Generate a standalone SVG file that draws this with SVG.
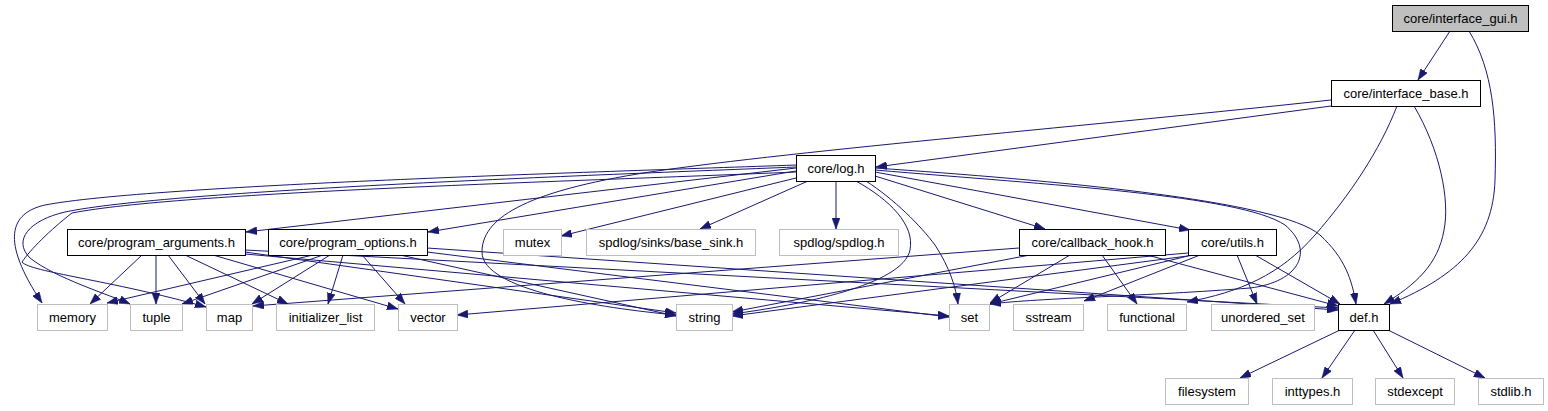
<svg xmlns="http://www.w3.org/2000/svg" width="1548" height="411" viewBox="0 0 1548 411">
<style>
  .n rect{fill:#ffffff;stroke:#000000;stroke-width:1}
  .x rect{fill:#ffffff;stroke:#bfbfbf;stroke-width:1}
  .root rect{fill:#bfbfbf;stroke:#000000;stroke-width:1}
  text{font-family:"Liberation Sans",Arial,sans-serif;font-size:13px;fill:#000000;text-anchor:middle}
  #edges path{fill:none;stroke:#191970;stroke-width:1;marker-end:url(#ah)}
</style>
<defs>
  <marker id="ah" markerUnits="userSpaceOnUse" markerWidth="11" markerHeight="8" refX="11" refY="4" orient="auto">
    <path d="M0,0 L11,4 L0,8 z" fill="#191970" stroke="#191970" stroke-width="0.5"/>
  </marker>
</defs>
<rect width="1548" height="411" fill="#ffffff"/>
<g id="edges">
  <path d="M1450,31 L1418,80"/>
  <path d="M1469,31 C1493,70 1497,120 1495,180 C1493,240 1460,275 1390,304"/>
  <path d="M1331,106 L876,167"/>
  <path d="M1331,100 C1100,125 800,150 650,172 C520,192 482,220 482,252 C482,290 600,308 676,315"/>
  <path d="M1397,106 C1380,150 1350,195 1315,235 C1280,275 1240,292 1187,302"/>
  <path d="M1414,106 C1440,150 1450,200 1444,230 C1438,265 1415,285 1384,304"/>
  <path d="M796,168 L246,232"/>
  <path d="M796,171 L428,232"/>
  <path d="M796,165 C600,172 150,185 45,205 C10,213 0,240 42,303"/>
  <path d="M796,167 C600,175 170,190 65,212 C30,220 12,240 30,258 C55,278 110,295 130,304"/>
  <path d="M796,172 C560,182 180,192 72,213 C50,230 30,250 22,262 C30,272 110,280 206,307"/>
  <path d="M796,178 L561,236"/>
  <path d="M808,181 L700,229"/>
  <path d="M836,181 L836,229"/>
  <path d="M875,176 L1045,229"/>
  <path d="M875,172 L1190,230"/>
  <path d="M875,168 C1050,180 1280,200 1320,235 C1345,258 1352,280 1356,304"/>
  <path d="M875,170 C1050,185 1240,195 1285,225 C1315,250 1300,282 1250,288 C1150,296 1040,298 990,304"/>
  <path d="M866,181 C895,200 920,225 935,245 C950,268 956,288 958,304"/>
  <path d="M856,181 C890,200 915,225 910,250 C903,285 800,305 732,314"/>
  <path d="M142,255 L90,304"/>
  <path d="M156,255 L156,304"/>
  <path d="M168,255 L205,304"/>
  <path d="M185,255 L288,304"/>
  <path d="M213,255 L398,309"/>
  <path d="M245,252 L676,313"/>
  <path d="M245,254 L949,316"/>
  <path d="M245,250 L1338,308"/>
  <path d="M313,255 L107,303"/>
  <path d="M323,255 L182,304"/>
  <path d="M330,255 L252,304"/>
  <path d="M343,255 L328,304"/>
  <path d="M362,255 L405,304"/>
  <path d="M400,255 L676,316"/>
  <path d="M427,252 L949,317"/>
  <path d="M427,248 L1338,310"/>
  <path d="M1019,248 L253,306"/>
  <path d="M1030,255 L732,312"/>
  <path d="M1070,255 L990,303"/>
  <path d="M1102,255 L1137,304"/>
  <path d="M1147,255 L1338,306"/>
  <path d="M1188,253 L457,315"/>
  <path d="M1195,255 L732,316"/>
  <path d="M1188,256 L990,304"/>
  <path d="M1200,255 L1084,301"/>
  <path d="M1237,255 L1257,304"/>
  <path d="M1255,255 L1340,304"/>
  <path d="M1340,330 L1240,378"/>
  <path d="M1355,330 L1322,378"/>
  <path d="M1373,330 L1403,378"/>
  <path d="M1388,330 L1485,378"/>
</g>
<g id="interface_gui" class="root"><rect x="1392.5" y="5.5" width="136" height="26"/><text x="1460.5" y="23">core/interface_gui.h</text></g>
<g id="interface_base" class="n"><rect x="1331.5" y="80.5" width="149" height="26"/><text x="1406" y="98">core/interface_base.h</text></g>
<g id="log" class="n"><rect x="796.5" y="155.5" width="79" height="26"/><text x="836" y="173">core/log.h</text></g>
<g id="program_arguments" class="n"><rect x="67.5" y="229.5" width="178" height="26"/><text x="156.5" y="247">core/program_arguments.h</text></g>
<g id="program_options" class="n"><rect x="268.5" y="229.5" width="159" height="26"/><text x="348" y="247">core/program_options.h</text></g>
<g id="mutex" class="x"><rect x="503.5" y="229.5" width="58" height="26"/><text x="532.5" y="247">mutex</text></g>
<g id="base_sink" class="x"><rect x="586.5" y="229.5" width="169" height="26"/><text x="671" y="247">spdlog/sinks/base_sink.h</text></g>
<g id="spdlog" class="x"><rect x="779.5" y="229.5" width="119" height="26"/><text x="839" y="247">spdlog/spdlog.h</text></g>
<g id="callback_hook" class="n"><rect x="1019.5" y="229.5" width="146" height="26"/><text x="1092.5" y="247">core/callback_hook.h</text></g>
<g id="utils" class="n"><rect x="1188.5" y="229.5" width="88" height="26"/><text x="1232.5" y="247">core/utils.h</text></g>
<g id="memory" class="x"><rect x="37.5" y="304.5" width="70" height="26"/><text x="72.5" y="322">memory</text></g>
<g id="tuple" class="x"><rect x="130.5" y="304.5" width="52" height="26"/><text x="156.5" y="322">tuple</text></g>
<g id="map" class="x"><rect x="206.5" y="304.5" width="46" height="26"/><text x="229.5" y="322">map</text></g>
<g id="initializer_list" class="x"><rect x="276.5" y="304.5" width="98" height="26"/><text x="325.5" y="322">initializer_list</text></g>
<g id="vector" class="x"><rect x="398.5" y="304.5" width="59" height="26"/><text x="428" y="322">vector</text></g>
<g id="string" class="x"><rect x="676.5" y="304.5" width="56" height="26"/><text x="704.5" y="322">string</text></g>
<g id="set" class="x"><rect x="949.5" y="304.5" width="40" height="26"/><text x="969.5" y="322">set</text></g>
<g id="sstream" class="x"><rect x="1013.5" y="304.5" width="70" height="26"/><text x="1048.5" y="322">sstream</text></g>
<g id="functional" class="x"><rect x="1107.5" y="304.5" width="79" height="26"/><text x="1147" y="322">functional</text></g>
<g id="unordered_set" class="x"><rect x="1211.5" y="304.5" width="103" height="26"/><text x="1263" y="322">unordered_set</text></g>
<g id="def" class="n"><rect x="1338.5" y="304.5" width="51" height="26"/><text x="1364" y="322">def.h</text></g>
<g id="filesystem" class="x"><rect x="1165.5" y="378.5" width="83" height="26"/><text x="1207" y="396">filesystem</text></g>
<g id="inttypes" class="x"><rect x="1272.5" y="378.5" width="80" height="26"/><text x="1312.5" y="396">inttypes.h</text></g>
<g id="stdexcept" class="x"><rect x="1375.5" y="378.5" width="79" height="26"/><text x="1415" y="396">stdexcept</text></g>
<g id="stdlib" class="x"><rect x="1478.5" y="378.5" width="65" height="26"/><text x="1511" y="396">stdlib.h</text></g>
</svg>
